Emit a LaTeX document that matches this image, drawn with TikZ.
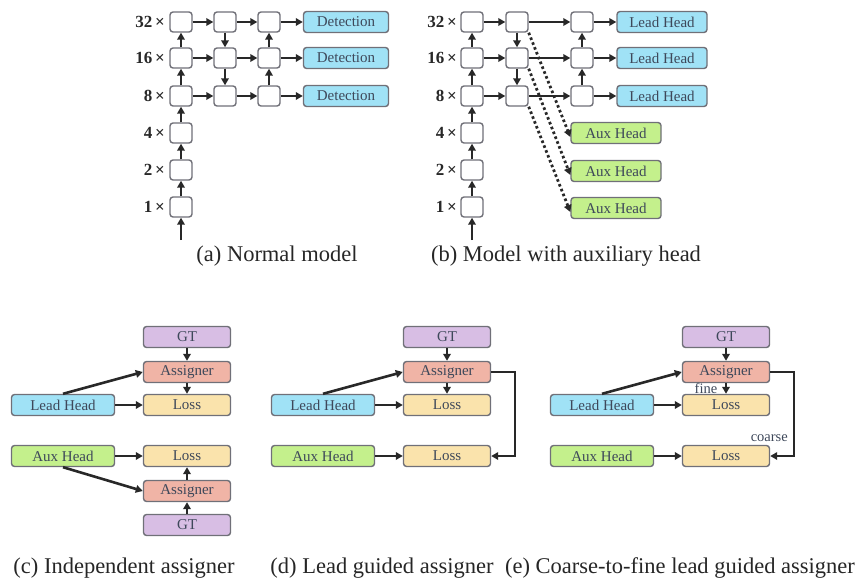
\documentclass[tikz,border=0pt]{standalone}
\usepackage{fontspec}
\IfFontExistsTF{LiberationSerif-Regular.ttf}{\setmainfont{LiberationSerif-Regular.ttf}[BoldFont=LiberationSerif-Bold.ttf]}{\setmainfont{Latin Modern Roman}}
\usetikzlibrary{arrows.meta}
\definecolor{leadc}{RGB}{160,226,246}
\definecolor{auxc}{RGB}{196,240,140}
\definecolor{gtc}{RGB}{216,190,228}
\definecolor{asgc}{RGB}{240,180,166}
\definecolor{lossc}{RGB}{250,227,172}
\definecolor{bordc}{RGB}{112,112,120}
\definecolor{txtc}{RGB}{62,72,90}
\definecolor{arrc}{RGB}{40,40,40}
\tikzset{
  cell/.style={draw=bordc, line width=1.4pt, fill=white, rounded corners=3pt, minimum width=22pt, minimum height=20pt, inner sep=0pt},
  headbox/.style={draw=bordc, line width=1.4pt, rounded corners=3pt, minimum height=21pt, inner sep=0pt, text=txtc, font=\fontsize{15}{16}\selectfont},
  leadbox/.style={headbox, fill=leadc, minimum width=88pt},
  auxbox/.style={headbox, fill=auxc, minimum width=90pt},
  gtbox/.style={headbox, fill=gtc, minimum width=87pt},
  asgbox/.style={headbox, fill=asgc, minimum width=87pt},
  lossbox/.style={headbox, fill=lossc, minimum width=87pt},
  inbox/.style={headbox, minimum width=103pt},
  scalelab/.style={anchor=east, inner sep=0pt, text=arrc, font=\fontsize{17}{18}\selectfont\bfseries},
  caption/.style={inner sep=0pt, text=black!85, font=\fontsize{22.5}{24}\selectfont},
  smalllab/.style={inner sep=0pt, text=txtc, font=\fontsize{14.5}{15}\selectfont},
  arr/.style={draw=arrc, line width=2.6pt, -{Triangle[length=7pt,width=7.5pt]}},
  dotarr/.style={draw=arrc, line width=2.8pt, dash pattern=on 2.6pt off 2.6pt, -{Triangle[length=7pt,width=7.5pt]}}
}
\begin{document}
\begin{tikzpicture}[x=1pt,y=-1pt]
\useasboundingbox (0,0) rectangle (862,586);
% ---------------- (a) ----------------
\foreach \r/\y/\lab in {1/22/32, 2/58/16, 3/96/8, 4/133/4, 5/170/2, 6/207/1}{
  \node[cell] (a1\r) at (181,\y) {};
  \node[scalelab] (al\r) at (165,\y) {\lab\,×};
}
\foreach \r/\y in {1/22, 2/58, 3/96}{
  \node[cell] (a2\r) at (225,\y) {};
  \node[cell] (a3\r) at (269,\y) {};
  \node[leadbox, minimum width=85pt] (ad\r) at (346,\y) {Detection};
  \draw[arr] (a1\r) -- (a2\r);
  \draw[arr] (a2\r) -- (a3\r);
  \draw[arr] (a3\r) -- (ad\r);
}
\coordinate (ain) at (181,240);
\draw[arr] (ain) -- (a16);
\draw[arr] (a16) -- (a15);
\draw[arr] (a15) -- (a14);
\draw[arr] (a14) -- (a13);
\draw[arr] (a13) -- (a12);
\draw[arr] (a12) -- (a11);
\draw[arr] (a21) -- (a22);
\draw[arr] (a22) -- (a23);
\draw[arr] (a33) -- (a32);
\draw[arr] (a32) -- (a31);
\node[caption] (capa) at (277,256) {(a) Normal model};
% ---------------- (b) ----------------
\foreach \r/\y/\lab in {1/22/32, 2/58/16, 3/96/8, 4/133/4, 5/170/2, 6/207/1}{
  \node[cell] (b1\r) at (472,\y) {};
  \node[scalelab] (bl\r) at (457,\y) {\lab\,×};
}
\foreach \r/\y in {1/22, 2/58, 3/96}{
  \node[cell] (b2\r) at (517,\y) {};
  \node[cell] (b3\r) at (582,\y) {};
  \node[leadbox, minimum width=90pt] (bh\r) at (662,\y) {Lead Head};
  \draw[arr] (b1\r) -- (b2\r);
  \draw[arr] (b2\r) -- (b3\r);
  \draw[arr] (b3\r) -- (bh\r);
}
\node[auxbox] (bx1) at (616,133) {Aux Head};
\node[auxbox] (bx2) at (616,171) {Aux Head};
\node[auxbox] (bx3) at (616,208) {Aux Head};
\draw[dotarr] (b21.south east) -- ([yshift=-4pt]bx1.west);
\draw[dotarr] (b22.south east) -- ([yshift=-4pt]bx2.west);
\draw[dotarr] (b23.south east) -- ([yshift=-4pt]bx3.west);
\coordinate (bin) at (472,240);
\draw[arr] (bin) -- (b16);
\draw[arr] (b16) -- (b15);
\draw[arr] (b15) -- (b14);
\draw[arr] (b14) -- (b13);
\draw[arr] (b13) -- (b12);
\draw[arr] (b12) -- (b11);
\draw[arr] (b21) -- (b22);
\draw[arr] (b22) -- (b23);
\draw[arr] (b33) -- (b32);
\draw[arr] (b32) -- (b31);
\node[caption] (capb) at (566,256) {(b) Model with auxiliary head};
% ---------------- (c) ----------------
\node[gtbox] (cgt) at (187,337) {GT};
\node[asgbox] (cas) at (187,372) {Assigner};
\node[lossbox] (clo) at (187,405) {Loss};
\node[inbox, fill=leadc] (cle) at (63,405) {Lead Head};
\node[inbox, fill=auxc] (cau) at (63,456) {Aux Head};
\node[lossbox] (clo2) at (187,456) {Loss};
\node[asgbox] (cas2) at (187,491) {Assigner};
\node[gtbox] (cgt2) at (187,525) {GT};
\draw[arr] (cgt) -- (cas);
\draw[arr] (cas) -- (clo);
\draw[arr] (cle) -- (clo);
\draw[arr] (cle.north) -- (cas.west);
\draw[arr] (cau) -- (clo2);
\draw[arr] (cau.south) -- (cas2.west);
\draw[arr] (cgt2) -- (cas2);
\draw[arr] (cas2) -- (clo2);
\node[caption] (capc) at (124,568) {(c) Independent assigner};
% ---------------- (d) ----------------
\node[gtbox] (dgt) at (447,337) {GT};
\node[asgbox] (das) at (447,372) {Assigner};
\node[lossbox] (dlo) at (447,405) {Loss};
\node[inbox, fill=leadc] (dle) at (323,405) {Lead Head};
\node[inbox, fill=auxc] (dau) at (323,456) {Aux Head};
\node[lossbox] (dlo2) at (447,456) {Loss};
\draw[arr] (dgt) -- (das);
\draw[arr] (das) -- (dlo);
\draw[arr] (dle) -- (dlo);
\draw[arr] (dle.north) -- (das.west);
\draw[arr] (dau) -- (dlo2);
\coordinate (dr) at (515,372);
\draw[arr] (das.east) -- (dr) |- (dlo2.east);
\node[caption] (capd) at (382,568) {(d) Lead guided assigner};
% ---------------- (e) ----------------
\node[gtbox] (egt) at (726,337) {GT};
\node[asgbox] (eas) at (726,372) {Assigner};
\node[lossbox] (elo) at (726,405) {Loss};
\node[inbox, fill=leadc] (ele) at (602,405) {Lead Head};
\node[inbox, fill=auxc] (eau) at (602,456) {Aux Head};
\node[lossbox] (elo2) at (726,456) {Loss};
\draw[arr] (egt) -- (eas);
\draw[arr] (eas) -- (elo);
\draw[arr] (ele) -- (elo);
\draw[arr] (ele.north) -- (eas.west);
\draw[arr] (eau) -- (elo2);
\coordinate (er) at (794,372);
\draw[arr] (eas.east) -- (er) |- (elo2.east);
\node[smalllab] (efine) at (706,388) {fine};
\node[smalllab, anchor=east] (ecoarse) at (788,438) {coarse};
\node[caption] (cape) at (680,568) {(e) Coarse-to-fine lead guided assigner};
\end{tikzpicture}
\end{document}
